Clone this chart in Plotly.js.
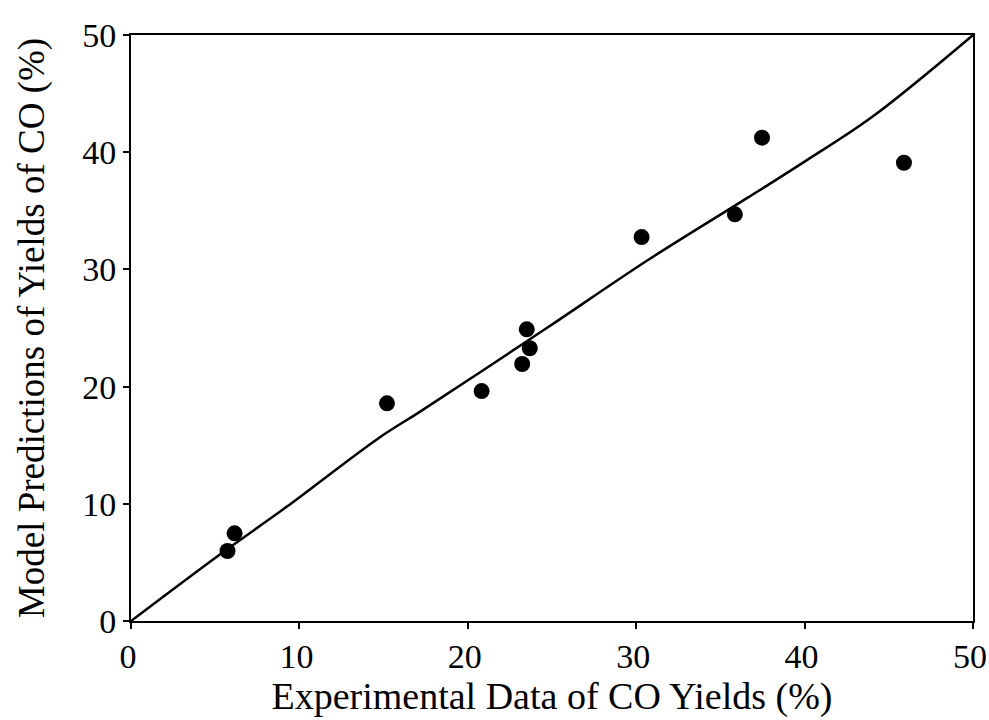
<!DOCTYPE html>
<html>
<head>
<meta charset="utf-8">
<script src="https://cdn.plot.ly/plotly-3.0.1.min.js"></script>
<style>html,body{margin:0;padding:0;background:#fff;}#chart{width:989px;height:720px;}</style>
</head>
<body>
<div id="chart"></div>
<script>
// Experimental vs model CO yields (%)
var expData = [5.73, 6.15, 15.2, 20.82, 23.23, 23.68, 23.5, 30.32, 35.86, 37.47, 45.9];
var modelPred = [5.97, 7.48, 18.57, 19.62, 21.93, 23.27, 24.89, 32.76, 34.7, 41.24, 39.1];
// fitted curve
var fitX = [0, 5.3, 9.2, 14.7, 17.1, 20.6, 24.8, 30.7, 36.6, 40, 44, 50];
var fitY = [0, 5.7, 9.7, 15.6, 17.8, 21.1, 25.1, 30.8, 36.1, 39.2, 43.0, 50];
var tickVals = [0, 10, 20, 30, 40, 50];

var font = "'Liberation Serif', 'Times New Roman', serif";

var traces = [
  {x: fitX, y: fitY, mode: 'lines', type: 'scatter',
   line: {color: '#000', width: 2.5, shape: 'spline', smoothing: 1}, hoverinfo: 'skip'},
  {x: expData, y: modelPred, mode: 'markers', type: 'scatter',
   marker: {color: '#000', size: 16}}
];

var axisCommon = {
  range: [0, 50], tickvals: tickVals, ticktext: tickVals.map(String),
  showgrid: false, zeroline: false, showline: true, linecolor: '#000', linewidth: 2,
  mirror: true, ticks: 'outside', ticklen: 6, tickwidth: 2, tickcolor: '#000',
  ticklabeloverflow: 'allow',
  tickfont: {family: font, size: 34, color: '#000'}
};

var layout = {
  width: 989, height: 720,
  margin: {l: 131, r: 16, t: 35, b: 99},
  paper_bgcolor: '#fff', plot_bgcolor: '#fff',
  showlegend: false,
  font: {family: font, color: '#000'},
  xaxis: Object.assign({}, axisCommon, {
    ticklabelshift: -3,
    ticklabelstandoff: -2,
    title: {text: 'Experimental Data of CO Yields (%)', font: {family: font, size: 38, color: '#000'}, standoff: 2}
  }),
  yaxis: Object.assign({}, axisCommon, {
    title: {text: 'Model Predictions of Yields of CO (%)', font: {family: font, size: 37, color: '#000'}, standoff: 26}
  })
};

Plotly.newPlot('chart', traces, layout, {staticPlot: true, displayModeBar: false});
</script>
</body>
</html>
